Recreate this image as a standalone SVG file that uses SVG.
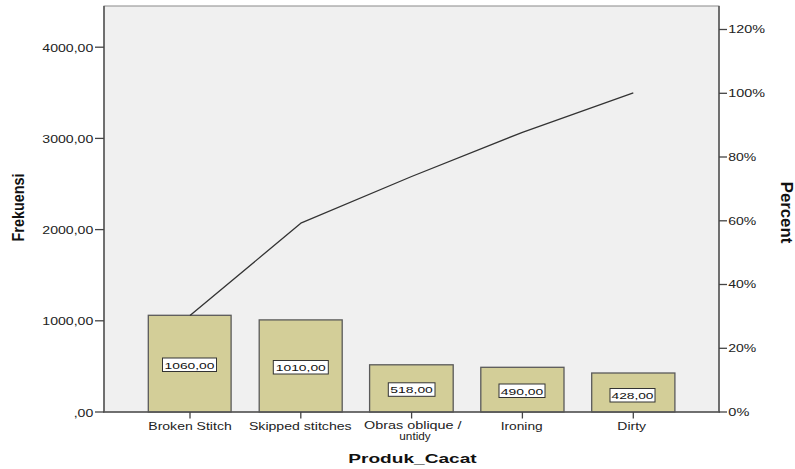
<svg xmlns="http://www.w3.org/2000/svg" width="795" height="469" viewBox="0 0 795 469">
  <style>
    .tick-label { font-family: "Liberation Sans", Arial, sans-serif; font-size: 10px; fill: #222; }
    .cat-label { font-family: "Liberation Sans", Arial, sans-serif; font-size: 10.5px; fill: #222; text-anchor: middle; }
    .cat-label.two-line { font-size: 10px; }
    .axis-title { font-family: "Liberation Sans", Arial, sans-serif; font-size: 13px; font-weight: bold; fill: #111; text-anchor: middle; }
    .val-label { font-family: "Liberation Sans", Arial, sans-serif; font-size: 9.5px; fill: #111; text-anchor: middle; }
    .bar { fill: #d3ce98; stroke: #5a5a5a; stroke-width: 1.3; }
    .val-box { fill: #ffffff; stroke: #333; stroke-width: 1; }
    .axis { stroke: #555; stroke-width: 1.5; fill: none; }
    .tick { stroke: #444; stroke-width: 1.3; }
    .pareto { fill: none; stroke: #333; stroke-width: 1.3; stroke-linejoin: round; }
  </style>

  <rect x="0" y="0" width="795" height="469" fill="#ffffff"/>

  <!-- plot area -->
  <rect x="104" y="6" width="615" height="406" fill="#f0f0f0" stroke="#8a8a8a" stroke-width="1"/>

  <!-- bars -->
  <g id="bar-broken-stitch">
    <rect class="bar" x="148.3" y="315.3" width="82.8" height="96.7"/>
    <rect class="val-box" x="162.5" y="358" width="54" height="13.5"/>
    <text class="val-label" x="189.5" y="368.5" textLength="50" lengthAdjust="spacingAndGlyphs">1060,00</text>
  </g>
  <g id="bar-skipped-stitches">
    <rect class="bar" x="259.2" y="319.9" width="83" height="92.1"/>
    <rect class="val-box" x="273.3" y="360.5" width="55" height="13.5"/>
    <text class="val-label" x="300.8" y="371" textLength="50" lengthAdjust="spacingAndGlyphs">1010,00</text>
  </g>
  <g id="bar-obras-oblique">
    <rect class="bar" x="369.6" y="364.8" width="83.6" height="47.2"/>
    <rect class="val-box" x="388.3" y="382.8" width="46.7" height="13.5"/>
    <text class="val-label" x="411.6" y="393.3" textLength="42.5" lengthAdjust="spacingAndGlyphs">518,00</text>
  </g>
  <g id="bar-ironing">
    <rect class="bar" x="480.8" y="367.3" width="83.2" height="44.7"/>
    <rect class="val-box" x="499" y="384" width="46" height="13.5"/>
    <text class="val-label" x="522" y="394.5" textLength="42.5" lengthAdjust="spacingAndGlyphs">490,00</text>
  </g>
  <g id="bar-dirty">
    <rect class="bar" x="591.7" y="373" width="83.2" height="39"/>
    <rect class="val-box" x="610" y="388.5" width="45" height="13.5"/>
    <text class="val-label" x="632.5" y="399" textLength="42" lengthAdjust="spacingAndGlyphs">428,00</text>
  </g>

  <!-- cumulative percent line -->
  <g id="connectors">
    <polyline class="pareto" points="190,315.6 300.8,223.2 411.6,176.5 522.4,132.3 633.3,92.8"/>
  </g>

  <!-- axes -->
  <g id="axes">
    <line class="axis" x1="104" y1="6" x2="104" y2="412.5"/>
    <line class="axis" x1="719" y1="6" x2="719" y2="412.5"/>
    <line class="axis" x1="103.3" y1="412" x2="719.7" y2="412"/>
    <!-- left ticks -->
    <line class="tick" x1="95" y1="412" x2="104" y2="412"/>
    <line class="tick" x1="95" y1="320.8" x2="104" y2="320.8"/>
    <line class="tick" x1="95" y1="229.6" x2="104" y2="229.6"/>
    <line class="tick" x1="95" y1="138.4" x2="104" y2="138.4"/>
    <line class="tick" x1="95" y1="47.2" x2="104" y2="47.2"/>
    <!-- right ticks -->
    <line class="tick" x1="719" y1="412" x2="727" y2="412"/>
    <line class="tick" x1="719" y1="348.3" x2="727" y2="348.3"/>
    <line class="tick" x1="719" y1="284.5" x2="727" y2="284.5"/>
    <line class="tick" x1="719" y1="220.8" x2="727" y2="220.8"/>
    <line class="tick" x1="719" y1="157" x2="727" y2="157"/>
    <line class="tick" x1="719" y1="93.3" x2="727" y2="93.3"/>
    <line class="tick" x1="719" y1="29.5" x2="727" y2="29.5"/>
    <!-- category ticks -->
    <line class="tick" x1="190" y1="412" x2="190" y2="418.5"/>
    <line class="tick" x1="300.8" y1="412" x2="300.8" y2="418.5"/>
    <line class="tick" x1="411.6" y1="412" x2="411.6" y2="418.5"/>
    <line class="tick" x1="522.4" y1="412" x2="522.4" y2="418.5"/>
    <line class="tick" x1="633.3" y1="412" x2="633.3" y2="418.5"/>
  </g>

  <!-- left axis labels -->
  <g id="left-labels" text-anchor="end">
    <text class="tick-label" x="93.3" y="416.5" textLength="19.6" lengthAdjust="spacingAndGlyphs">,00</text>
    <text class="tick-label" x="93.3" y="325.3" textLength="51" lengthAdjust="spacingAndGlyphs">1000,00</text>
    <text class="tick-label" x="93.3" y="234.1" textLength="51" lengthAdjust="spacingAndGlyphs">2000,00</text>
    <text class="tick-label" x="93.3" y="142.9" textLength="51" lengthAdjust="spacingAndGlyphs">3000,00</text>
    <text class="tick-label" x="93.3" y="51.7" textLength="51" lengthAdjust="spacingAndGlyphs">4000,00</text>
  </g>

  <!-- right axis labels -->
  <g id="right-labels">
    <text class="tick-label" x="728.3" y="415.8" textLength="21" lengthAdjust="spacingAndGlyphs">0%</text>
    <text class="tick-label" x="728.3" y="352" textLength="28" lengthAdjust="spacingAndGlyphs">20%</text>
    <text class="tick-label" x="728.3" y="288.3" textLength="28" lengthAdjust="spacingAndGlyphs">40%</text>
    <text class="tick-label" x="728.3" y="224.5" textLength="28" lengthAdjust="spacingAndGlyphs">60%</text>
    <text class="tick-label" x="728.3" y="160.8" textLength="28" lengthAdjust="spacingAndGlyphs">80%</text>
    <text class="tick-label" x="728.3" y="97" textLength="36.7" lengthAdjust="spacingAndGlyphs">100%</text>
    <text class="tick-label" x="728.3" y="33.3" textLength="36.7" lengthAdjust="spacingAndGlyphs">120%</text>
  </g>

  <!-- category labels -->
  <g id="category-labels">
    <text class="cat-label" x="190" y="429.5" textLength="83.4" lengthAdjust="spacingAndGlyphs">Broken Stitch</text>
    <text class="cat-label" x="300.3" y="429.5" textLength="102.7" lengthAdjust="spacingAndGlyphs">Skipped stitches</text>
    <text class="cat-label two-line" x="412.8" y="428.5" textLength="97.7" lengthAdjust="spacingAndGlyphs">Obras oblique /</text>
    <text class="cat-label two-line" x="415" y="440" textLength="31.4" lengthAdjust="spacingAndGlyphs">untidy</text>
    <text class="cat-label" x="521.7" y="429.5" textLength="42" lengthAdjust="spacingAndGlyphs">Ironing</text>
    <text class="cat-label" x="631.7" y="429.5" textLength="28.7" lengthAdjust="spacingAndGlyphs">Dirty</text>
  </g>

  <!-- axis titles -->
  <g id="axis-titles">
    <text class="axis-title" x="412.5" y="462.7" textLength="128.4" lengthAdjust="spacingAndGlyphs">Produk_Cacat</text>
    <text class="axis-title" transform="translate(24.3,207.5) scale(1.3,1) rotate(-90)" x="0" y="0" textLength="68" lengthAdjust="spacingAndGlyphs">Frekuensi</text>
    <text class="axis-title" transform="translate(780.7,212.5) scale(1.3,1) rotate(90)" x="0" y="0" textLength="61.6" lengthAdjust="spacingAndGlyphs">Percent</text>
  </g>
</svg>
